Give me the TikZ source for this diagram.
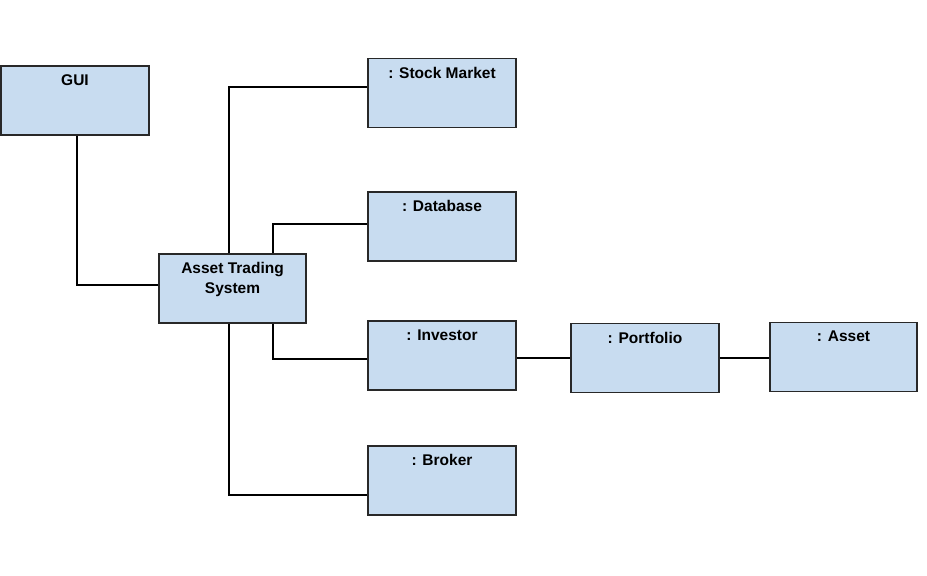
\documentclass[tikz,border=0pt]{standalone}
\usepackage{fontspec}
\setmainfont{Liberation Sans}
\definecolor{boxfill}{RGB}{200,220,240}
\definecolor{boxline}{RGB}{40,40,40}
\begin{document}
\begin{tikzpicture}[x=1pt,y=-1pt,
  obj/.style={draw=boxline, line width=1.2pt, fill=boxfill, minimum width=148pt, minimum height=69pt, inner sep=0pt},
  lbl/.style={anchor=north, inner sep=0pt, font=\fontsize{15.5}{20}\selectfont\bfseries, align=center},
  conn/.style={draw=black, line width=1.8pt}]
\useasboundingbox (0,0) rectangle (927,576);
\node[obj] (gui) at (75,100.5) {};
\node[obj, minimum width=147pt] (ats) at (232.5,288.5) {};
\node[obj] (sm) at (442,93) {};
\node[obj] (db) at (442,226.5) {};
\node[obj] (inv) at (442,355.5) {};
\node[obj] (port) at (645,358) {};
\node[obj, minimum width=147pt] (asset) at (843.5,357) {};
\node[obj] (brk) at (442,480.5) {};
\node[lbl] (tgui) at ([yshift=-9pt]gui.north) {GUI};
\node[lbl] (tats) at ([yshift=-8.5pt]ats.north) {Asset Trading\\System};
\node[lbl] (tsm) at ([yshift=-9pt]sm.north) {: Stock Market};
\node[lbl] (tdb) at ([yshift=-9pt]db.north) {: Database};
\node[lbl] (tinv) at ([yshift=-9pt]inv.north) {: Investor};
\node[lbl] (tport) at ([yshift=-9pt]port.north) {: Portfolio};
\node[lbl] (tasset) at ([yshift=-9pt]asset.north) {: Asset};
\node[lbl] (tbrk) at ([yshift=-9pt]brk.north) {: Broker};
\draw[conn] ([xshift=2pt]gui.south) |- ([yshift=3.5pt]ats.west);
\draw[conn] ([xshift=-3.5pt]ats.north) |- ([yshift=6pt]sm.west);
\draw[conn] ([xshift=40.5pt]ats.north) |- ([yshift=2.5pt]db.west);
\draw[conn] ([xshift=40.5pt]ats.south) |- ([yshift=-3.5pt]inv.west);
\draw[conn] ([xshift=-3.5pt]ats.south) |- ([yshift=-14.5pt]brk.west);
\draw[conn] ([yshift=-2.5pt]inv.east) -- (port.west);
\draw[conn] (port.east) -- (port.east -| asset.west);
\end{tikzpicture}
\end{document}
